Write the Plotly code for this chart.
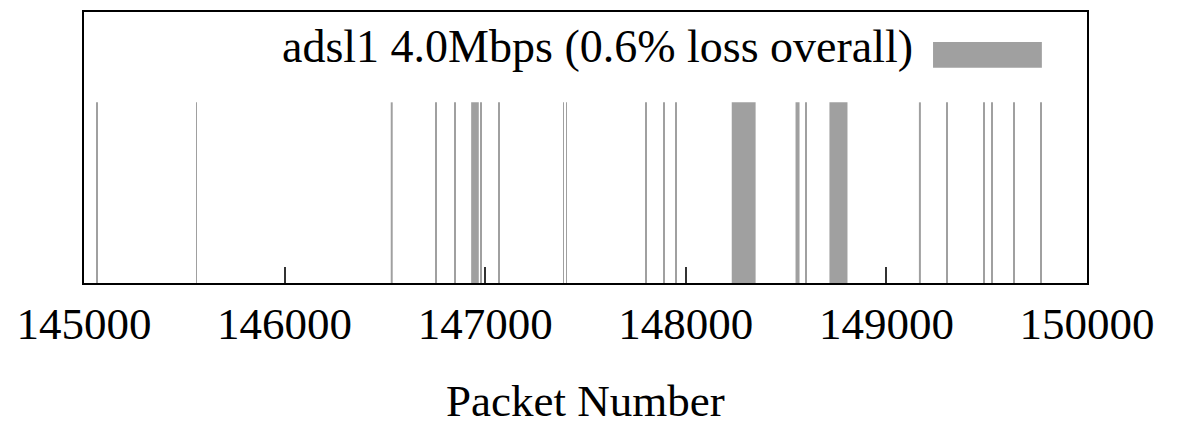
import plotly.graph_objects as go

# Lost-packet runs: first lost packet number and run length (packets)
loss_start = [145063, 145560, 146529, 146752, 146847, 146930, 146978, 147066,
              147388, 147404, 147800, 147890, 147947, 148229, 148547, 148598,
              148716, 149162, 149300, 149486, 149524, 149635, 149769]
loss_len = [3, 3, 10, 3, 3, 38, 4, 3,
            3, 3, 3, 3, 8, 119, 20, 3,
            90, 10, 3, 3, 3, 3, 3]
series_name = "adsl1 4.0Mbps (0.6% loss overall)"
x_title = "Packet Number"
tick_vals = [145000, 146000, 147000, 148000, 149000, 150000]
tick_text = ["145000", "146000", "147000", "148000", "149000", "150000"]

bar_color = "#a0a0a0"
font_family = "Liberation Serif, Times New Roman, serif"

x_center = [s + n / 2 for s, n in zip(loss_start, loss_len)]
y_vals = [1] * len(loss_start)

fig = go.Figure()
fig.add_trace(go.Bar(
    x=x_center, y=y_vals, width=loss_len, base=0,
    marker=dict(color=bar_color, line=dict(width=0)),
    name=series_name, showlegend=False,
))

fig.update_layout(
    width=1186, height=425,
    margin=dict(l=84, r=99, t=12, b=142),
    paper_bgcolor="white", plot_bgcolor="white",
    font=dict(family=font_family, size=45, color="black"),
    showlegend=False,
    xaxis=dict(
        range=[145000, 150000],
        tickvals=tick_vals, ticktext=tick_text,
        ticks="inside", ticklen=16, tickwidth=1.5, tickcolor="#333333",
        showline=True, mirror=True, linecolor="black", linewidth=1.5,
        showgrid=False, zeroline=False, automargin=False,
        tickfont=dict(family=font_family, size=45),
    ),
    yaxis=dict(
        range=[0, 1.5],
        showticklabels=False, ticks="",
        showline=True, mirror=True, linecolor="black", linewidth=1.5,
        showgrid=False, zeroline=False, automargin=False,
    ),
)

# Axis title placed as text below the tick labels
fig.add_annotation(
    xref="paper", yref="paper", x=0.5, y=-0.434,
    xanchor="center", yanchor="middle", showarrow=False,
    text=x_title, font=dict(family=font_family, size=45, color="black"),
)

# Legend: text plus a wide swatch, as in the original key
fig.add_annotation(
    xref="paper", yref="paper", x=0.8285, y=0.871,
    xanchor="right", yanchor="middle", showarrow=False,
    text=series_name, font=dict(family=font_family, size=46, color="black"),
)
fig.add_shape(
    type="rect", xref="paper", yref="paper",
    x0=0.8465, x1=0.955, y0=0.7945, y1=0.889,
    fillcolor=bar_color, line=dict(width=0),
)

fig.write_html("out.html")
